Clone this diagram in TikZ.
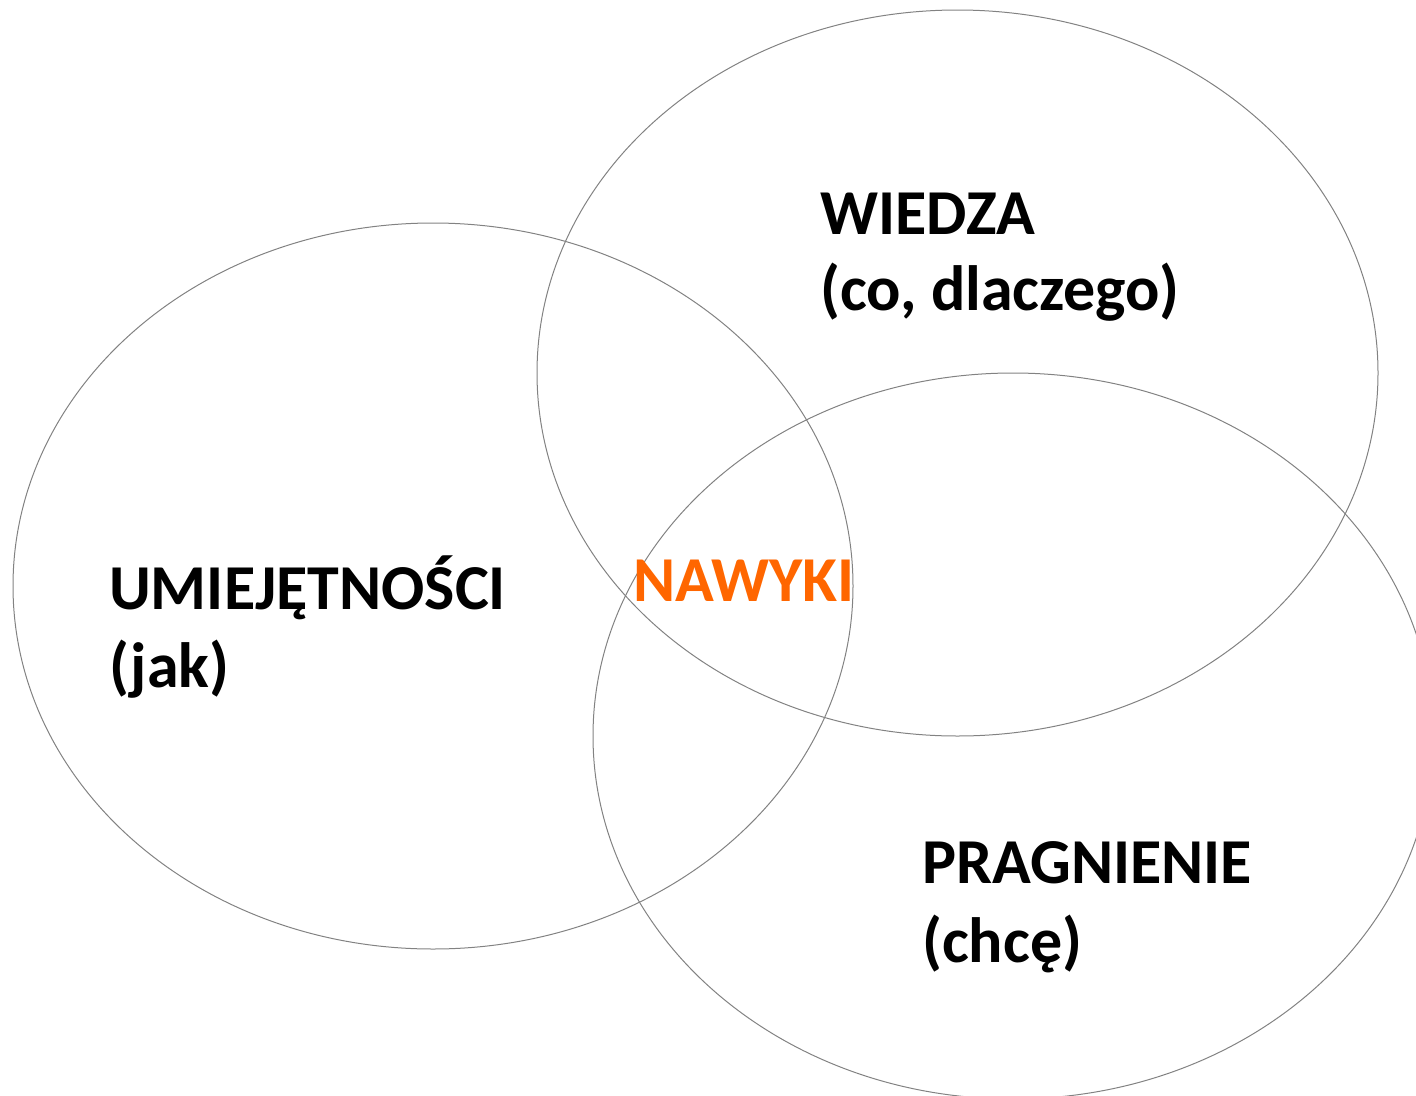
\documentclass[tikz,border=0pt]{standalone}
\usepackage{fontspec}
\setmainfont{Carlito}
\definecolor{ringgray}{RGB}{130,130,130}
\definecolor{habitorange}{RGB}{255,102,0}
\begin{document}
\begin{tikzpicture}[x=1pt,y=-1pt,
  ring/.style={draw=ringgray,line width=1pt},
  lbl/.style={anchor=base west,inner sep=0pt,font=\fontsize{64}{76}\selectfont\bfseries,text=black},
  hab/.style={lbl,text=habitorange}]
\useasboundingbox (0,0) rectangle (1416,1095);
\begin{scope}
\clip (0,0) rectangle (1416,1095);
\draw[ring] (433,586) ellipse [x radius=420, y radius=363];
\draw[ring] (957.5,373) ellipse [x radius=420.5, y radius=363];
\draw[ring] (1013,736) ellipse [x radius=420, y radius=363];
\end{scope}
\node[lbl] (w1) at (820,234) {WIEDZA};
\node[lbl] (w2) at (820,310) {(co, dlaczego)};
\node[lbl] (u1) at (109,609) {UMIEJĘTNOŚCI};
\node[lbl] (u2) at (109,687) {(jak)};
\node[hab] (n1) at (633,601) {NAWYKI};
\node[lbl] (p1) at (922,883) {PRAGNIENIE};
\node[lbl] (p2) at (922,962) {(chcę)};
\end{tikzpicture}
\end{document}
